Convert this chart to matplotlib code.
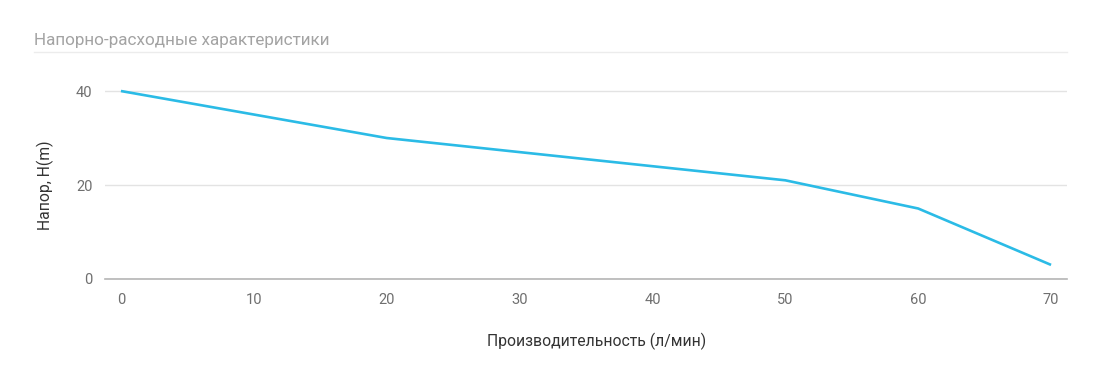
import matplotlib
matplotlib.use("Agg")
import matplotlib.pyplot as plt
from matplotlib.lines import Line2D

plt.rcParams["font.family"] = ["Roboto", "DejaVu Sans"]

flow = [0, 20, 50, 60, 70]
head = [40, 30, 21, 15, 3]
x_ticks = [0, 10, 20, 30, 40, 50, 60, 70]
y_ticks = [0, 20, 40]

W, H = 1115, 378
fig = plt.figure(figsize=(W / 100, H / 100), dpi=100)
# axes box in pixel coords: x 105..1067, y 60..279 (from top)
ax = fig.add_axes([105 / W, 1 - 279 / H, (1067 - 105) / W, (279 - 60) / H])

ax.plot(flow, head, color="#2bbbe6", lw=1.9, solid_capstyle="butt", zorder=3)

ax.set_xlim(-1.2, 71.2)
ax.set_ylim(0, 46.6)
ax.set_xticks(x_ticks)
ax.set_yticks(y_ticks)
for s in ["top", "right", "left"]:
    ax.spines[s].set_visible(False)
ax.spines["bottom"].set_color("#b5b5b5")
ax.spines["bottom"].set_linewidth(1.2)
ax.grid(axis="y", color="#e3e3e3", lw=1)
ax.set_axisbelow(True)
ax.tick_params(length=0, labelsize=10.5, labelcolor="#6f6f6f")
ax.tick_params(axis="x", pad=10)
ax.tick_params(axis="y", pad=9)

fig.text(597 / W, 1 - 341 / H, "Производительность (л/мин)", ha="center", va="center",
         fontsize=11.3, color="#333333")
fig.text(45 / W, 1 - 185 / H, "Напор, H(m)", ha="center", va="center", rotation=90,
         fontsize=11.3, color="#333333")

fig.text(34 / W, 1 - 40 / H, "Напорно-расходные характеристики", ha="left", va="center",
         fontsize=12.3, color="#a3a3a3", fontweight="normal")
fig.add_artist(Line2D([34 / W, 1067 / W], [1 - 52 / H, 1 - 52 / H], color="#ececec", lw=1,
                      transform=fig.transFigure))

fig.savefig("out.png", dpi=100, facecolor="white")
